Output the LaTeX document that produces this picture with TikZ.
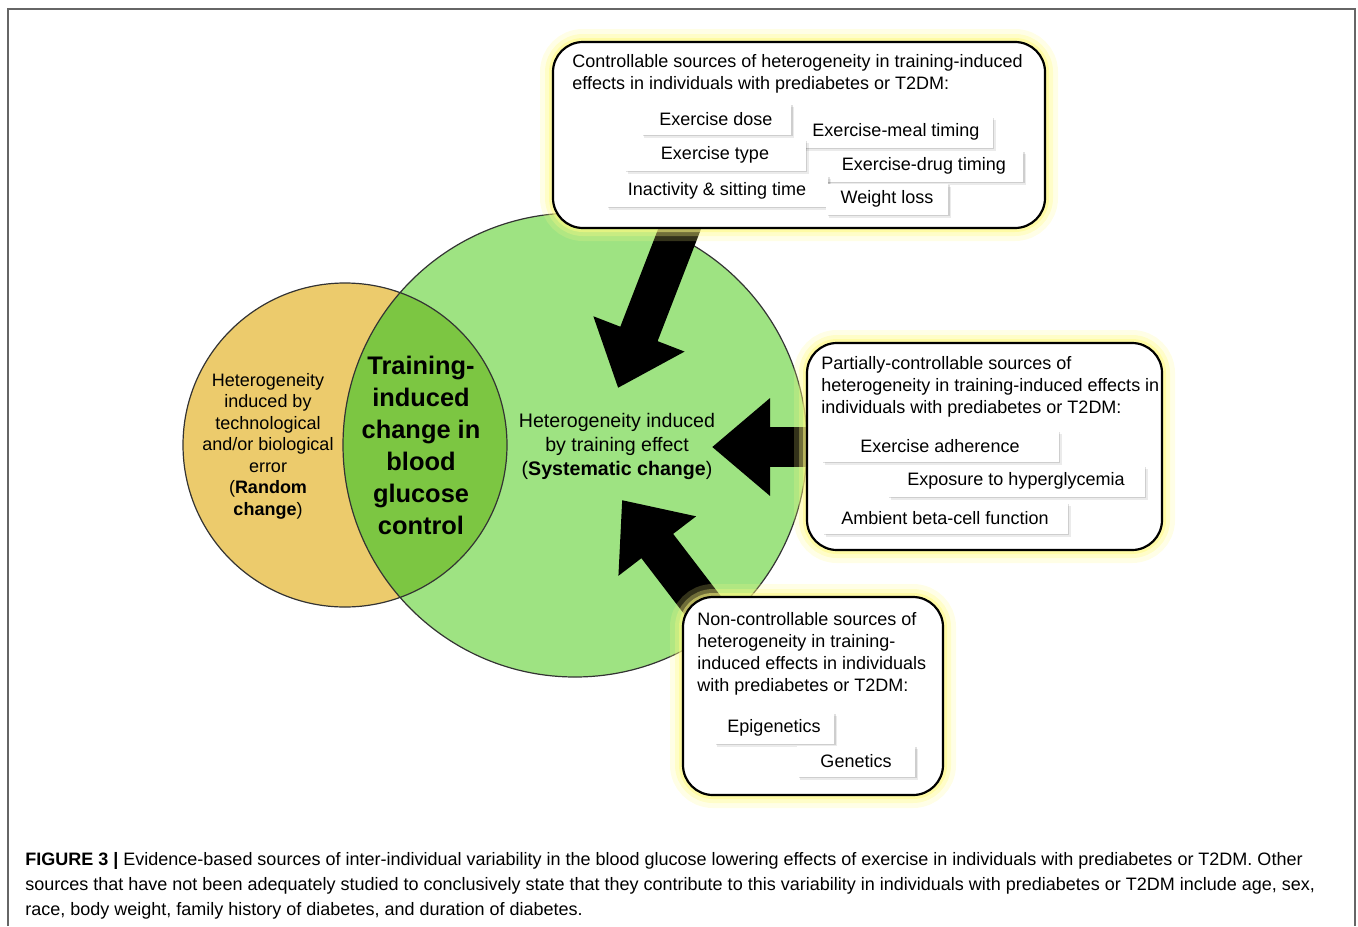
\documentclass[tikz,border=0pt]{standalone}
\usepackage{fontspec}
\setmainfont{Liberation Sans}
\usetikzlibrary{arrows.meta,shadows}

\definecolor{randyellow}{RGB}{236,203,108}
\definecolor{systgreen}{RGB}{158,227,130}
\definecolor{overlapgreen}{RGB}{124,198,66}
\definecolor{glowyellow}{RGB}{255,250,130}

\begin{document}
\begin{tikzpicture}[x=0.5pt,y=-0.5pt,
    source box/.style={draw=black,line width=1.1pt,fill=white,rounded corners=15pt,
      preaction={draw=glowyellow,line width=13pt,opacity=0.2},
      preaction={draw=glowyellow,line width=8pt,opacity=0.3},
      preaction={draw=glowyellow,line width=4pt,opacity=0.5}},
    item box/.style={fill=white,minimum height=15.5pt,inner sep=0pt,font=\fontsize{9}{11}\selectfont,
      drop shadow={shadow xshift=1.6pt,shadow yshift=-1.6pt,opacity=0.08,fill=black},
      drop shadow={shadow xshift=0.9pt,shadow yshift=-0.9pt,opacity=0.12,fill=black}},
    title text/.style={anchor=north west,align=left,inner sep=0pt,font=\fontsize{9}{11}\selectfont},
    big arrow/.style={line width=20pt,-{Triangle[length=29pt,width=47pt]}}]
        \useasboundingbox (0,0) rectangle (1358,926);
        \draw[black!60,line width=1pt] (8,926) -- (8,9) -- (1355,9) -- (1355,926);

        % the two circles
        \node[circle,minimum size=162pt,inner sep=0pt,fill=randyellow] (rand) at (345,445) {};
        \node[circle,minimum size=232pt,inner sep=0pt,fill=systgreen] (syst) at (575,445) {};
        \begin{scope}
            \clip (rand.center) circle (81pt);
            \fill[overlapgreen] (syst.center) circle (116pt);
        \end{scope}
        \draw[black!80,line width=0.6pt] (rand.center) circle (81pt) (syst.center) circle (116pt);

        \node[align=center,font=\fontsize{9}{10.75}\selectfont] (rand text) at (268,446)
            {Heterogeneity\\induced by\\technological\\and/or biological\\error\\(\textbf{Random}\\\textbf{change})};
        \node[align=center,font=\bfseries\fontsize{12.7}{16}\selectfont] (overlap) at (421,445)
            {Training-\\induced\\change in\\blood\\glucose\\control};
        \node[align=center,font=\fontsize{9.8}{12}\selectfont] (syst text) at (617,446)
            {Heterogeneity induced\\by training effect\\(\textbf{Systematic change})};

        % arrows into the systematic change
        \coordinate (ctrl tail) at (685,215);
        \coordinate (ctrl tip) at (618,388);
        \coordinate (part tail) at (815,447);
        \coordinate (part tip) at (712,447);
        \coordinate (non tail) at (707,611);
        \coordinate (non tip) at (622,500);
        \draw[big arrow] (ctrl tail) -- (ctrl tip);
        \draw[big arrow] (part tail) -- (part tip);
        \draw[big arrow] (non tail) -- (non tip);

        % controllable
        \node[source box,minimum width=246pt,minimum height=93pt] (ctrl) at (799,135) {};
        \node[title text] (ctrl title) at (572,54)
            {Controllable sources of heterogeneity in training-induced\\effects in individuals with prediabetes or T2DM:};
        \node[item box,minimum width=75pt] (dose) at (716,119) {Exercise dose};
        \node[item box,minimum width=96.5pt] (meal) at (896,132) {Exercise-meal timing};
        \node[item box,minimum width=90.5pt] (type) at (715,155) {Exercise type};
        \node[item box,minimum width=99pt] (drug) at (924,166) {Exercise-drug timing};
        \node[item box,minimum width=111pt] (sit) at (717,191) {Inactivity \& sitting time};
        \node[item box,minimum width=61pt] (loss) at (887,199) {Weight loss};

        % partially controllable
        \node[source box,minimum width=177.5pt,minimum height=103.5pt] (part) at (984.5,446.5) {};
        \node[title text] (part title) at (821,356)
            {Partially-controllable sources of\\heterogeneity in training-induced effects in\\individuals with prediabetes or T2DM:};
        \node[item box,minimum width=118.5pt] (adh) at (940,446) {Exercise adherence};
        \node[item box,minimum width=128.5pt] (hyper) at (1016,481) {Exposure to hyperglycemia};
        \node[item box,minimum width=122.5pt] (beta) at (945,518) {Ambient beta-cell function};

        % non-controllable
        \node[source box,minimum width=130pt,minimum height=99pt] (non) at (813,696) {};
        \node[title text] (non title) at (697,612)
            {Non-controllable sources of\\heterogeneity in training-\\induced effects in individuals\\with prediabetes or T2DM:};
        \node[item box,minimum width=60pt] (epi) at (774,728) {Epigenetics};
        \node[item box,minimum width=59pt] (gen) at (856,761) {Genetics};

        \node[anchor=north west,align=left,inner sep=0pt,font=\fontsize{9}{12.5}\selectfont] (caption) at (25,852)
            {\textbf{FIGURE 3 |} Evidence-based sources of inter-individual variability in the blood glucose lowering effects of exercise in individuals with prediabetes or T2DM. Other\\
             sources that have not been adequately studied to conclusively state that they contribute to this variability in individuals with prediabetes or T2DM include age, sex,\\
             race, body weight, family history of diabetes, and duration of diabetes.};
\end{tikzpicture}
\end{document}
